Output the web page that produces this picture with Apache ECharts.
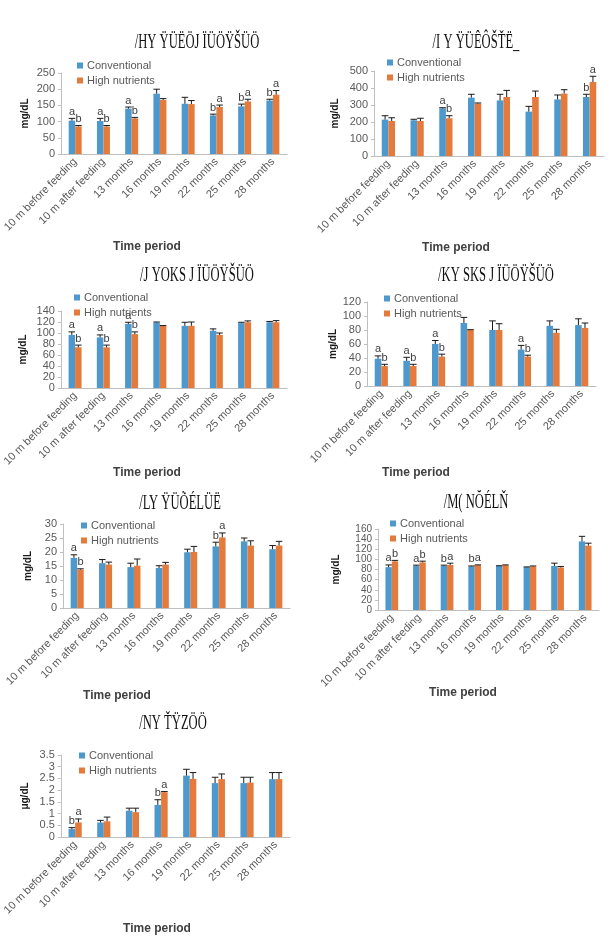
<!DOCTYPE html>
<html>
<head>
<meta charset="utf-8">
<script src="https://cdn.jsdelivr.net/npm/echarts@6/dist/echarts.min.js"></script>
<style>
  html, body { margin: 0; padding: 0; background: #fff; }
  #chart { width: 613px; height: 938px; }
</style>
</head>
<body>
<div id="chart"></div>
<script>
// categories shared by every panel
var categories = ['10 m before feeding', '10 m after feeding', '13 months', '16 months',
  '19 months', '22 months', '25 months', '28 months'];

// panel titles (font in source renders as garbled glyphs)
var titles = ['/HY ŸÜËÖJ ÏÜÖŸŠÜÖ', '/I Y ŸÜÊÔŠŤË_', '/J YOKS J ÏÜÖŸŠÜÖ', '/KY SKS J ÏÜÖŸŠÜÖ',
  '/LY ŸÜÕÉLÜË', '/M( NŎÉLŇ', '/NY ŤŸZÖÖ'];
var units = ['mg/dL', 'mg/dL', 'mg/dL', 'mg/dL', 'mg/dL', 'mg/dL', 'μg/dL'];
var yMax = [250, 500, 140, 120, 30, 160, 3.5];
var yStep = [50, 100, 20, 20, 5, 20, 0.5];

// panel 1
var p1Conv = [103, 102, 140, 186, 155, 119, 147, 165];
var p1ConvErr = [7, 8, 5, 14, 20, 4, 7, 4];
var p1High = [85, 85, 110, 167, 154, 145, 162, 183];
var p1HighErr = [3, 3, 3, 4, 11, 6, 7, 13];
var p1ConvTag = ['a', 'a', 'a', '', '', 'b', 'b', 'b'];
var p1HighTag = ['b', 'b', 'b', '', '', 'a', 'a', 'a'];

// panel 2
var p2Conv = [214, 210, 280, 343, 327, 261, 333, 347];
var p2ConvErr = [23, 6, 4, 20, 36, 31, 26, 16];
var p2High = [206, 206, 222, 308, 347, 347, 367, 435];
var p2HighErr = [19, 16, 15, 4, 39, 35, 23, 34];
var p2ConvTag = ['', '', 'a', '', '', '', '', 'b'];
var p2HighTag = ['', '', 'b', '', '', '', '', 'a'];

// panel 3
var p3Conv = [96.5, 92, 116.5, 119, 113, 104, 118, 119.5];
var p3ConvErr = [5.5, 4.5, 3, 1, 6.5, 3.5, 1.5, 1.5];
var p3High = [74, 74, 98, 113, 113, 96.5, 119.5, 119.5];
var p3HighErr = [4, 4, 4, 0.5, 7, 3.5, 2.5, 3];
var p3ConvTag = ['a', 'a', 'a', '', '', '', '', ''];
var p3HighTag = ['b', 'b', 'b', '', '', '', '', ''];

// panel 4
var p4Conv = [39, 36, 60, 90, 80, 52, 86, 87];
var p4ConvErr = [4, 5, 5, 8, 13, 6, 7, 9];
var p4High = [28.5, 28.5, 42, 80, 80, 42, 76, 83];
var p4HighErr = [2.5, 2.5, 3.5, 0.5, 9, 2, 5, 7];
var p4ConvTag = ['a', 'a', 'a', '', '', 'a', '', ''];
var p4HighTag = ['b', 'b', 'b', '', '', 'b', '', ''];

// panel 5
var p5Conv = [17.9, 16, 14.6, 14.3, 19.9, 22, 23.8, 21];
var p5ConvErr = [1.1, 1.3, 1.4, 0.8, 1.1, 1.5, 1.2, 1.3];
var p5High = [13.7, 15.5, 15.1, 15.5, 20, 25.2, 22.3, 22.3];
var p5HighErr = [0.3, 0.9, 2.4, 0.8, 2, 1.6, 1.7, 1.5];
var p5ConvTag = ['a', '', '', '', '', 'b', '', ''];
var p5HighTag = ['b', '', '', '', '', 'a', '', ''];

// panel 6
var p6Conv = [84.6, 87, 87, 86, 87, 84.6, 87, 135.5];
var p6ConvErr = [4.4, 1.6, 1.6, 1, 0.5, 0.5, 5.5, 10];
var p6High = [96, 94, 89, 88.6, 88.6, 86, 84, 127];
var p6HighErr = [2, 2.5, 3.5, 0.5, 0.5, 1, 2, 5];
var p6ConvTag = ['a', 'a', 'b', 'b', '', '', '', ''];
var p6HighTag = ['b', 'b', 'a', 'a', '', '', '', ''];

// panel 7
var p7Conv = [0.34, 0.62, 1.12, 1.37, 2.62, 2.3, 2.3, 2.47];
var p7ConvErr = [0.06, 0.09, 0.11, 0.22, 0.27, 0.25, 0.25, 0.28];
var p7High = [0.62, 0.67, 1.06, 1.91, 2.48, 2.47, 2.32, 2.47];
var p7HighErr = [0.15, 0.18, 0.17, 0.03, 0.27, 0.22, 0.23, 0.28];
var p7ConvTag = ['b', '', '', 'b', '', '', '', ''];
var p7HighTag = ['a', '', '', 'a', '', '', '', ''];

var panels = [
  [p1Conv, p1ConvErr, p1High, p1HighErr, p1ConvTag, p1HighTag],
  [p2Conv, p2ConvErr, p2High, p2HighErr, p2ConvTag, p2HighTag],
  [p3Conv, p3ConvErr, p3High, p3HighErr, p3ConvTag, p3HighTag],
  [p4Conv, p4ConvErr, p4High, p4HighErr, p4ConvTag, p4HighTag],
  [p5Conv, p5ConvErr, p5High, p5HighErr, p5ConvTag, p5HighTag],
  [p6Conv, p6ConvErr, p6High, p6HighErr, p6ConvTag, p6HighTag],
  [p7Conv, p7ConvErr, p7High, p7HighErr, p7ConvTag, p7HighTag]
];

// layout: plot boxes, legend spots, title/axis-title centers
var boxes = [
  [61, 73, 226, 81], [374, 71, 230, 85],
  [59, 311, 228, 77], [367, 302, 229, 84],
  [63, 524, 227, 84], [378, 529, 221, 81],
  [60, 755, 230, 82]
];
var legendPos = [[72, 55], [382, 52], [69, 287], [379, 288], [76, 515], [385, 513], [74, 745]];
var titlePos = [[197, 42], [476, 42], [197, 275], [496, 275], [180, 503], [476, 502], [173, 723]];
var xNamePos = [[147, 247], [456, 248], [147, 473], [416, 473], [117, 696], [463, 693], [157, 929]];
var yNameGap = [31, 34, 33, 29, 30, 37, 31];
var yLabelSize = [11, 11, 11, 11, 11, 10, 11];
var yLabelLine = [10, 10, 10, 10, 10, 8, 10];

var BLUE = '#4d98cc';
var ORANGE = '#e47b3c';
var BAR_FRAC = 0.23;
var FONT = '"Liberation Sans", Arial, sans-serif';

function errRender(sign, tags) {
  return function (params, api) {
    var i = api.value(0), v = api.value(1), e = api.value(2);
    var band = api.size([1, 0])[0];
    var bw = band * BAR_FRAC;
    var base = api.coord([i, v]);
    var top = api.coord([i, v + e]);
    var x = base[0] + sign * bw / 2;
    var cap = bw * 0.5;
    var kids = [
      { type: 'line', shape: { x1: x, y1: base[1], x2: x, y2: top[1] }, style: { stroke: '#1a1a1a', lineWidth: 1 } },
      { type: 'line', shape: { x1: x - cap, y1: top[1], x2: x + cap, y2: top[1] }, style: { stroke: '#1a1a1a', lineWidth: 1 } }
    ];
    var tag = tags[params.dataIndex];
    if (tag) {
      kids.push({
        type: 'text',
        style: { text: tag, x: x, y: top[1] - 1, align: 'center', verticalAlign: 'bottom',
          fontSize: 11, fontFamily: FONT, fill: '#404040' }
      });
    }
    return { type: 'group', children: kids };
  };
}

var grid = [], xAxis = [], yAxis = [], legend = [], series = [], graphic = [];

panels.forEach(function (p, k) {
  var b = boxes[k];
  grid.push({ left: b[0], top: b[1], width: b[2], height: b[3] });
  xAxis.push({
    type: 'category', gridIndex: k, data: categories,
    axisLine: { lineStyle: { color: '#bfbfbf' } },
    axisTick: { show: false },
    axisLabel: { rotate: 45, interval: 0, fontSize: 11, color: '#595959', fontFamily: FONT, margin: 6 }
  });
  yAxis.push({
    type: 'value', gridIndex: k, min: 0, max: yMax[k], interval: yStep[k],
    name: units[k], nameLocation: 'middle', nameGap: yNameGap[k],
    nameTextStyle: { fontSize: 10, fontWeight: 'bold', color: '#1a1a1a', fontFamily: FONT },
    axisLine: { show: true, lineStyle: { color: '#bfbfbf' } },
    axisTick: { show: true, length: 3, lineStyle: { color: '#bfbfbf' } },
    axisLabel: { fontSize: yLabelSize[k], color: '#595959', fontFamily: FONT, margin: 6,
      hideOverlap: false, showMinLabel: true, showMaxLabel: true, lineHeight: yLabelLine[k] },
    splitLine: { show: false }
  });
  legend.push({
    left: legendPos[k][0], top: legendPos[k][1], orient: 'vertical',
    icon: 'rect', itemWidth: 6, itemHeight: 6, itemGap: 4,
    textStyle: { fontSize: 11, color: '#595959', fontFamily: FONT, padding: [0, 0, 0, -1] },
    data: ['Conventional', 'High nutrients']
  });
  series.push({
    name: 'Conventional', type: 'bar', xAxisIndex: k, yAxisIndex: k,
    data: p[0], barWidth: (BAR_FRAC * 100) + '%', barGap: '0%',
    itemStyle: { color: BLUE }
  });
  series.push({
    name: 'High nutrients', type: 'bar', xAxisIndex: k, yAxisIndex: k,
    data: p[2], barWidth: (BAR_FRAC * 100) + '%', barGap: '0%',
    itemStyle: { color: ORANGE }
  });
  series.push({
    type: 'custom', xAxisIndex: k, yAxisIndex: k, z: 5, silent: true,
    renderItem: errRender(-1, p[4]),
    data: p[0].map(function (v, i) { return [i, v, p[1][i]]; })
  });
  series.push({
    type: 'custom', xAxisIndex: k, yAxisIndex: k, z: 5, silent: true,
    renderItem: errRender(1, p[5]),
    data: p[2].map(function (v, i) { return [i, v, p[3][i]]; })
  });
  graphic.push({
    type: 'text', x: titlePos[k][0], y: titlePos[k][1], scaleX: 0.6, originX: 0,
    style: { text: titles[k], align: 'center', verticalAlign: 'middle',
      font: '21px "Liberation Serif", serif', fill: '#111' }
  });
  graphic.push({
    type: 'text', x: xNamePos[k][0], y: xNamePos[k][1],
    style: { text: 'Time period', align: 'center', verticalAlign: 'middle',
      font: 'bold 12px "Liberation Sans", Arial, sans-serif', fill: '#404040' }
  });
});

var chart = echarts.init(document.getElementById('chart'), null, { renderer: 'canvas' });
chart.setOption({
  animation: false,
  backgroundColor: '#fff',
  grid: grid,
  xAxis: xAxis,
  yAxis: yAxis,
  legend: legend,
  series: series,
  graphic: graphic
});
</script>
</body>
</html>
